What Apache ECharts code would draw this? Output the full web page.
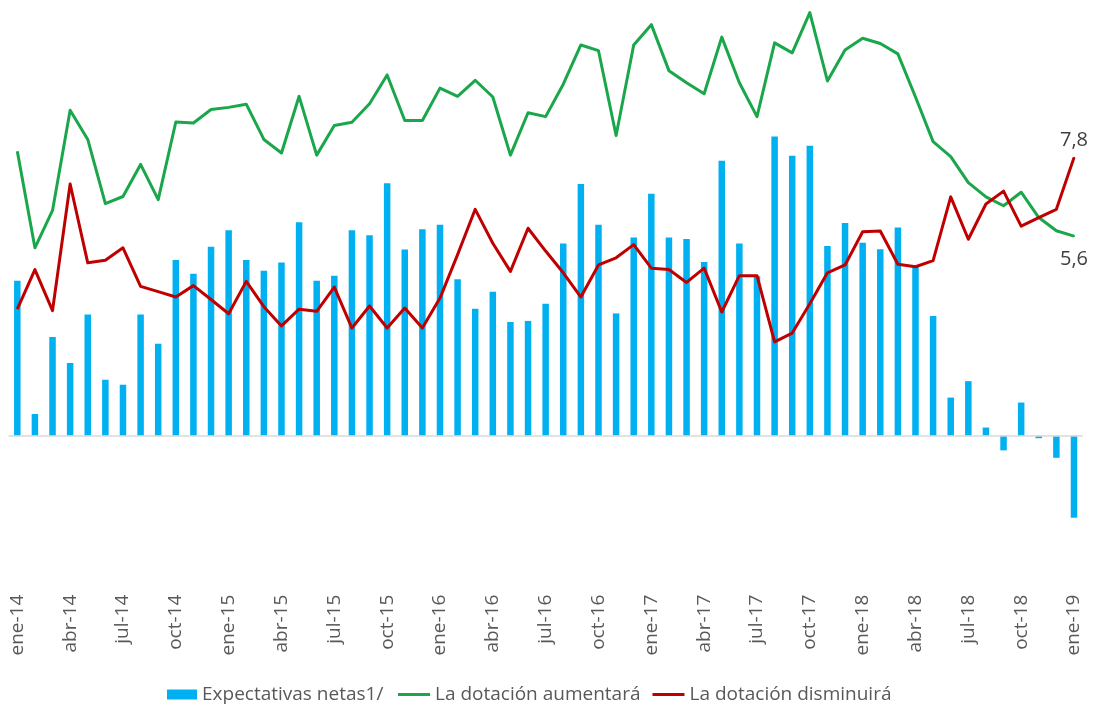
<!DOCTYPE html>
<html>
<head>
<meta charset="utf-8">
<script src="https://cdn.jsdelivr.net/npm/echarts@6/dist/echarts.min.js"></script>
<style>
  html, body { margin: 0; padding: 0; background: #ffffff; }
  #chart { width: 1094px; height: 705px; }
</style>
</head>
<body>
<div id="chart"></div>
<script>
const categories = [
  "ene-14","feb-14","mar-14","abr-14","may-14","jun-14","jul-14","ago-14","sep-14","oct-14","nov-14","dic-14",
  "ene-15","feb-15","mar-15","abr-15","may-15","jun-15","jul-15","ago-15","sep-15","oct-15","nov-15","dic-15",
  "ene-16","feb-16","mar-16","abr-16","may-16","jun-16","jul-16","ago-16","sep-16","oct-16","nov-16","dic-16",
  "ene-17","feb-17","mar-17","abr-17","may-17","jun-17","jul-17","ago-17","sep-17","oct-17","nov-17","dic-17",
  "ene-18","feb-18","mar-18","abr-18","may-18","jun-18","jul-18","ago-18","sep-18","oct-18","nov-18","dic-18",
  "ene-19"
];

const expectativasNetas = [
  4.35, 0.61, 2.77, 2.04, 3.40, 1.57, 1.43, 3.40, 2.58, 4.93, 4.54, 5.30,
  5.76, 4.93, 4.63, 4.86, 5.99, 4.35, 4.49, 5.76, 5.62, 7.08, 5.22, 5.79,
  5.92, 4.39, 3.56, 4.04, 3.19, 3.22, 3.70, 5.39, 7.06, 5.92, 3.43, 5.56,
  6.79, 5.56, 5.52, 4.87, 7.71, 5.39, 4.47, 8.39, 7.85, 8.13, 5.32, 5.97,
  5.41, 5.23, 5.84, 4.74, 3.36, 1.07, 1.53, 0.23, -0.41, 0.93, -0.07, -0.62,
  -2.30
];

const dotacionAumentara = [
  7.98, 5.27, 6.32, 9.13, 8.31, 6.51, 6.71, 7.61, 6.62, 8.80, 8.77, 9.15,
  9.21, 9.30, 8.31, 7.93, 9.52, 7.87, 8.70, 8.79, 9.31, 10.12, 8.84, 8.84,
  9.75, 9.52, 9.97, 9.50, 7.87, 9.06, 8.95, 9.86, 10.96, 10.80, 8.42, 10.96,
  11.53, 10.24, 9.90, 9.59, 11.18, 9.90, 8.95, 11.02, 10.74, 11.87, 9.95, 10.82,
  11.15, 11.00, 10.71, 9.50, 8.25, 7.83, 7.10, 6.70, 6.45, 6.83, 6.12, 5.75,
  5.6
];

const dotacionDisminuira = [
  3.55, 4.66, 3.51, 7.06, 4.85, 4.92, 5.27, 4.19, 4.04, 3.89, 4.21, 3.82,
  3.42, 4.33, 3.62, 3.08, 3.55, 3.49, 4.17, 3.02, 3.64, 3.02, 3.58, 3.02,
  3.86, 5.08, 6.35, 5.40, 4.61, 5.82, 5.18, 4.57, 3.89, 4.79, 4.99, 5.36,
  4.70, 4.66, 4.30, 4.70, 3.47, 4.49, 4.49, 2.63, 2.88, 3.70, 4.57, 4.79,
  5.72, 5.74, 4.81, 4.74, 4.91, 6.70, 5.51, 6.50, 6.86, 5.88, 6.12, 6.35,
  7.8
];

const seriesNames = ["Expectativas netas1/", "La dotación aumentará", "La dotación disminuirá"];

const FONT = "'Open Sans', 'Liberation Sans', sans-serif";
const lastIdx = categories.length - 1;
const GREEN = '#1AA64A';
const RED = '#C00000';
const BLUE = '#00B0F0';

function endMark(arr, color, position, distance) {
  return {
    silent: true,
    symbol: 'circle',
    symbolSize: 2,
    itemStyle: { color: color },
    label: {
      show: true, position: position, distance: distance,
      formatter: (p) => String(p.value).replace('.', ','),
      color: '#404040', fontSize: 20, fontFamily: FONT
    },
    data: [{ coord: [categories[lastIdx], arr[lastIdx]], value: arr[lastIdx] }]
  };
}

const legendText = { color: '#595959', fontSize: 19, fontFamily: FONT };

const chart = echarts.init(document.getElementById('chart'), null, { renderer: 'canvas' });
chart.setOption({
  animation: false,
  backgroundColor: '#ffffff',
  grid: { left: 8.5, right: 11.2, top: 0.77, height: 541.9 },
  legend: [
    {
      data: [seriesNames[0]],
      left: 162,
      top: 680,
      icon: 'rect',
      itemWidth: 30,
      itemHeight: 10,
      textStyle: legendText
    },
    {
      data: [seriesNames[1], seriesNames[2]],
      left: 393,
      top: 680,
      icon: 'rect',
      itemGap: 12,
      itemWidth: 32,
      itemHeight: 3,
      textStyle: legendText
    }
  ],
  xAxis: {
    type: 'category',
    data: categories,
    boundaryGap: true,
    axisLine: { show: false, onZero: false },
    axisTick: { show: false },
    splitLine: { show: false },
    axisLabel: {
      interval: 2,
      rotate: 90,
      margin: 52,
      color: '#595959',
      fontSize: 19,
      fontFamily: FONT
    }
  },
  yAxis: {
    type: 'value',
    min: -3,
    max: 12.2,
    show: false,
    splitLine: { show: false }
  },
  series: [
    {
      name: seriesNames[0],
      type: 'bar',
      data: expectativasNetas,
      barWidth: 6.5,
      itemStyle: { color: BLUE },
      markLine: {
        silent: true,
        symbol: 'none',
        label: { show: false },
        lineStyle: { color: '#d9d9d9', width: 1.5, type: 'solid' },
        data: [{ yAxis: 0 }]
      },
      z: 1
    },
    {
      name: seriesNames[1],
      type: 'line',
      data: dotacionAumentara,
      symbol: 'none',
      lineStyle: { color: GREEN, width: 3, join: 'round' },
      itemStyle: { color: GREEN },
      markPoint: endMark(dotacionAumentara, GREEN, 'bottom', 12),
      z: 3
    },
    {
      name: seriesNames[2],
      type: 'line',
      data: dotacionDisminuira,
      symbol: 'none',
      lineStyle: { color: RED, width: 3, join: 'round' },
      itemStyle: { color: RED },
      markPoint: endMark(dotacionDisminuira, RED, 'top', 6),
      z: 4
    }
  ]
});
</script>
</body>
</html>
